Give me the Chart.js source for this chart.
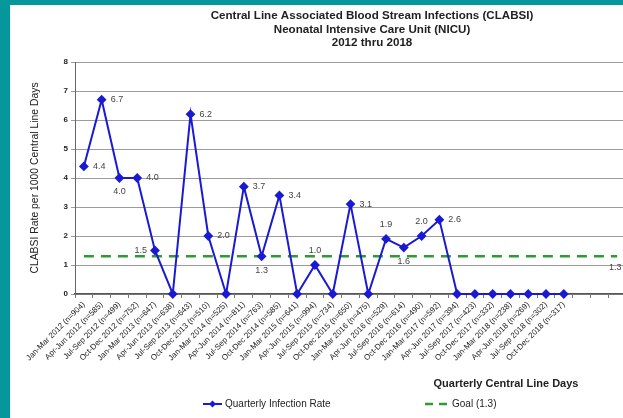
<!DOCTYPE html>
<html lang="en">
<head>
  <meta charset="UTF-8">
  <title>CLABSI - NICU 2012 thru 2018</title>
  <script src="https://cdn.jsdelivr.net/npm/chart.js"></script>
  <style>
    html, body {
      margin: 0;
      padding: 0;
      overflow: hidden;
    }

    body {
      background-color: #05979c;
      width: 623px;
      height: 418px;
      position: relative;
      font-family: Arial, "Liberation Sans", sans-serif;
    }

    .panel {
      position: absolute;
      left: 10px;
      top: 5px;
      width: 640px;
      height: 413px;
      background-color: #fff;
    }

    .chart-box {
      position: absolute;
      left: 0;
      top: 0;
      width: 640px;
      height: 413px;
    }
  </style>
</head>
<body>

  <div class="panel">
    <div class="chart-box">
      <canvas id="clabsiChart"></canvas>
    </div>
  </div>

  <script>
    // quarters on the x axis (the last three slots are empty on the original)
    const quarters = [
      'Jan-Mar 2012 (n=904)', 'Apr-Jun 2012 (n=585)', 'Jul-Sep 2012 (n=499)', 'Oct-Dec 2012 (n=752)',
      'Jan-Mar 2013 (n=647)', 'Apr-Jun 2013 (n=638)', 'Jul-Sep 2013 (n=643)', 'Oct-Dec 2013 (n=510)',
      'Jan-Mar 2014 (n=525)', 'Apr-Jun 2014 (n=811)', 'Jul-Sep 2014 (n=763)', 'Oct-Dec 2014 (n=585)',
      'Jan-Mar 2015 (n=641)', 'Apr-Jun 2015 (n=994)', 'Jul-Sep 2015 (n=734)', 'Oct-Dec 2015 (n=650)',
      'Jan-Mar 2016 (n=475)', 'Apr-Jun 2016 (n=529)', 'Jul-Sep 2016 (n=614)', 'Oct-Dec 2016 (n=490)',
      'Jan-Mar 2017 (n=592)', 'Apr-Jun 2017 (n=394)', 'Jul-Sep 2017 (n=423)', 'Oct-Dec 2017 (n=332)',
      'Jan-Mar 2018 (n=238)', 'Apr-Jun 2018 (n=269)', 'Jul-Sep 2018 (n=302)', 'Oct-Dec 2018 (n=317)',
      '', '', ''
    ];

    // CLABSI rate per 1000 central line days
    const rates = [
      4.4, 6.7, 4.0, 4.0,
      1.5, 0, 6.2, 2.0,
      0, 3.7, 1.3, 3.4,
      0, 1.0, 0, 3.1,
      0, 1.9, 1.6, 2.0,
      2.56, 0, 0, 0,
      0, 0, 0, 0
    ];

    const goalRate = 1.3;

    // where each value label sits next to its point (null = no label)
    const labelSide = [
      'right', 'right', 'below', 'right',
      'left', null, 'right', 'right',
      null, 'right', 'below', 'right',
      null, 'above', null, 'right',
      null, 'above', 'below', 'above',
      'right', null, null, null,
      null, null, null, null
    ];

    const titleLines = [
      'Central Line Associated Blood Stream Infections (CLABSI)',
      'Neonatal Intensive Care Unit (NICU)',
      '2012 thru 2018'
    ];
    const xAxisTitle = 'Quarterly Central Line Days';
    const yAxisTitle = 'CLABSI Rate per 1000 Central Line Days';
    const seriesNames = ['Quarterly Infection Rate', 'Goal (1.3)'];

    const lineBlue = '#1a1ad4';
    const goalGreen = '#2f9a35';

    // Value labels next to the points
    const pointLabels = {
      id: 'pointLabels',
      afterDatasetsDraw(chart) {
        const ctx = chart.ctx;
        const pts = chart.getDatasetMeta(0).data;
        ctx.save();
        ctx.font = '9px Arial';
        ctx.fillStyle = '#444';
        ctx.textBaseline = 'middle';
        rates.forEach((v, i) => {
          const side = labelSide[i];
          if (!side || !pts[i]) return;
          const p = pts[i];
          const txt = v.toFixed(1);
          if (side === 'right') {
            ctx.textAlign = 'left';
            ctx.fillText(txt, p.x + 9, p.y);
          } else if (side === 'left') {
            ctx.textAlign = 'right';
            ctx.fillText(txt, p.x - 8, p.y);
          } else if (side === 'below') {
            ctx.textAlign = 'center';
            ctx.fillText(txt, p.x, p.y + 14);
          } else {
            ctx.textAlign = 'center';
            ctx.fillText(txt, p.x, p.y - 14);
          }
        });
        // goal label at the end of the dashed line
        const goalPts = chart.getDatasetMeta(1).data;
        const last = goalPts[goalPts.length - 1];
        ctx.textAlign = 'left';
        ctx.fillText(goalRate.toFixed(1), last.x - 8, last.y + 11);
        ctx.restore();
      }
    };

    // Chart title, x axis title and the legend (spread out like the original)
    const extraText = {
      id: 'extraText',
      afterDraw(chart) {
        const ctx = chart.ctx;
        ctx.save();
        ctx.fillStyle = '#222';
        ctx.textAlign = 'center';
        ctx.textBaseline = 'middle';
        ctx.font = 'bold 11.6px Arial';
        const ys = [11, 25, 38];
        titleLines.forEach((t, i) => ctx.fillText(t, 362, ys[i]));

        ctx.font = 'bold 11px Arial';
        ctx.fillText(xAxisTitle, 496, chart.scales.x.bottom - 5);

        // legend
        const ly = chart.scales.x.bottom + 15;
        ctx.font = '10px Arial';
        ctx.textAlign = 'left';

        ctx.strokeStyle = lineBlue;
        ctx.lineWidth = 2;
        ctx.beginPath();
        ctx.moveTo(193, ly);
        ctx.lineTo(212, ly);
        ctx.stroke();
        ctx.fillStyle = lineBlue;
        ctx.beginPath();
        ctx.moveTo(202.5, ly - 3.5);
        ctx.lineTo(206, ly);
        ctx.lineTo(202.5, ly + 3.5);
        ctx.lineTo(199, ly);
        ctx.closePath();
        ctx.fill();
        ctx.fillStyle = '#222';
        ctx.fillText(seriesNames[0], 215, ly);

        ctx.strokeStyle = goalGreen;
        ctx.lineWidth = 2.5;
        ctx.setLineDash([8, 6]);
        ctx.beginPath();
        ctx.moveTo(415, ly);
        ctx.lineTo(438, ly);
        ctx.stroke();
        ctx.setLineDash([]);
        ctx.fillText(seriesNames[1], 442, ly);
        ctx.restore();
      }
    };

    const ctx = document.getElementById('clabsiChart').getContext('2d');
    new Chart(ctx, {
      type: 'line',
      data: {
        labels: quarters,
        datasets: [
          {
            label: seriesNames[0],
            data: rates,
            borderColor: lineBlue,
            backgroundColor: lineBlue,
            borderWidth: 2,
            pointStyle: 'rectRot',
            pointRadius: 3.5,
            pointBackgroundColor: lineBlue,
            pointBorderColor: lineBlue,
            tension: 0,
            clip: false
          },
          {
            label: seriesNames[1],
            data: quarters.map(() => goalRate),
            borderColor: goalGreen,
            backgroundColor: goalGreen,
            borderWidth: 2.5,
            borderDash: [10, 7],
            pointRadius: 0,
            tension: 0
          }
        ]
      },
      options: {
        responsive: true,
        maintainAspectRatio: false,
        animation: false,
        layout: {
          padding: { top: 57, left: 15, right: 24, bottom: 29 }
        },
        plugins: {
          tooltip: { enabled: false },
          legend: { display: false }
        },
        scales: {
          x: {
            offset: true,
            grid: {
              offset: true,
              drawOnChartArea: false,
              drawTicks: true,
              tickLength: 4,
              color: '#777'
            },
            border: { color: '#555', width: 1.5 },
            ticks: {
              autoSkip: false,
              maxRotation: 45,
              minRotation: 45,
              padding: 2,
              color: '#222',
              font: { family: 'Arial', size: 8 }
            },
            afterFit(scale) {
              scale.height = 95;
            }
          },
          y: {
            min: 0,
            max: 8,
            grid: {
              color: '#9c9c9c',
              tickLength: 4
            },
            border: { color: '#666' },
            ticks: {
              stepSize: 1,
              padding: 3,
              color: '#222',
              font: { family: 'Arial', size: 8, weight: 'bold' }
            },
            title: {
              display: true,
              text: yAxisTitle,
              color: '#222',
              padding: { top: 4, bottom: 4 },
              font: { family: 'Arial', size: 10.4 }
            },
            afterFit(scale) {
              scale.width = 50;
            }
          }
        }
      },
      plugins: [pointLabels, extraText]
    });
  </script>
</body>
</html>
